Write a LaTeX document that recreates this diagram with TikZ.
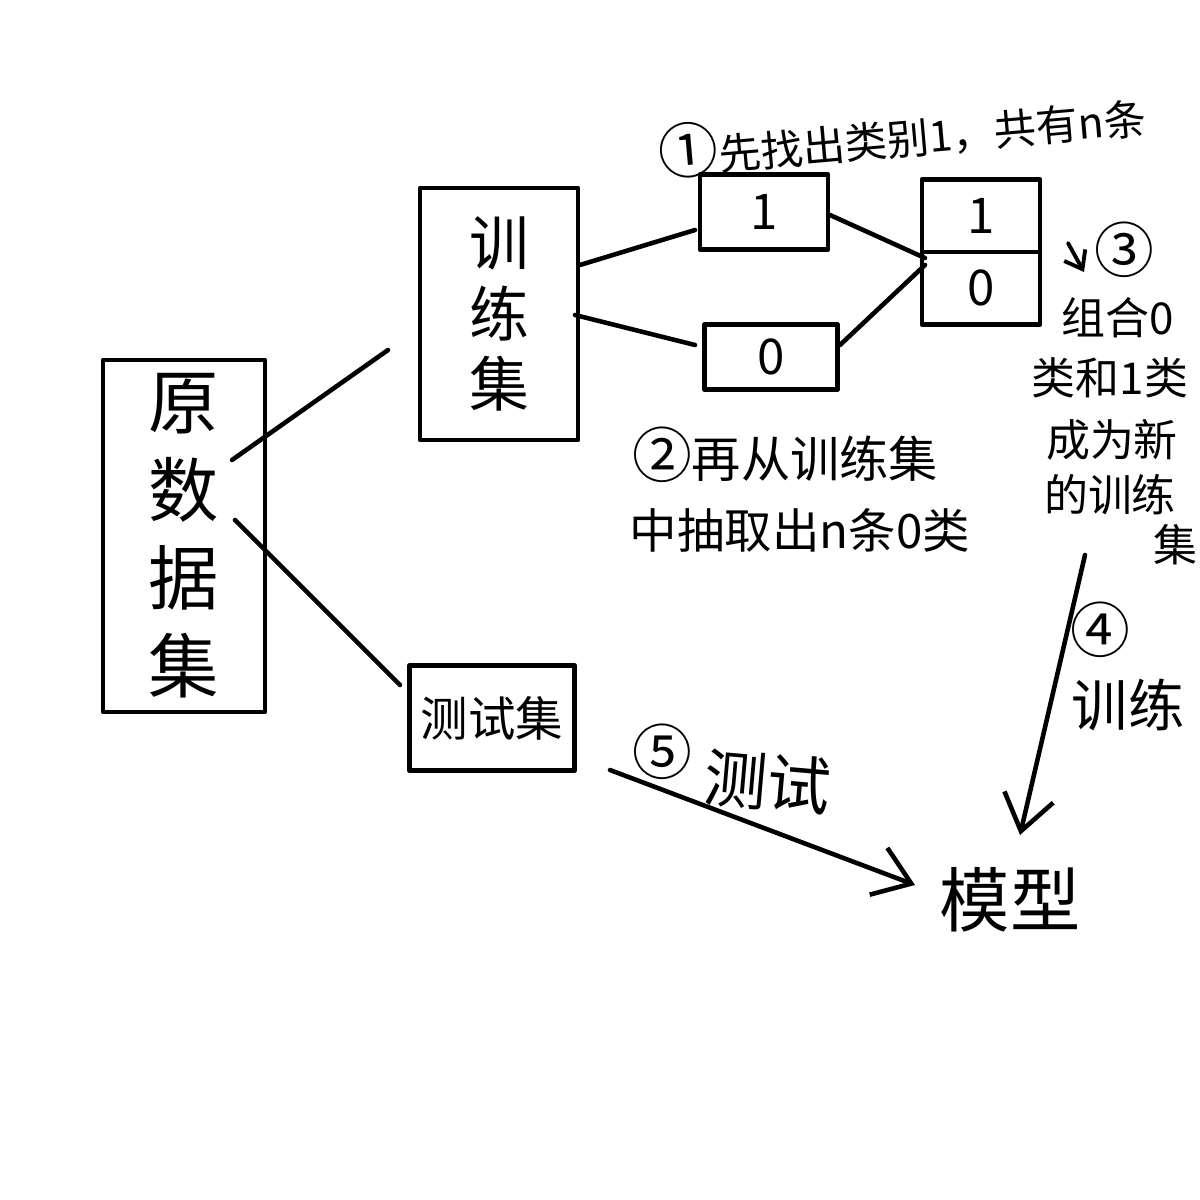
\documentclass[tikz,border=0pt]{standalone}
\usepackage{fontspec}
\setmainfont{Noto Sans CJK SC}
\usetikzlibrary{arrows.meta}
\newcommand{\circnum}[1]{{\fontsize{17}{17}\selectfont #1}}
\begin{document}
\begin{tikzpicture}[x=0.01cm,y=-0.01cm,line width=1.3pt,line cap=round,line join=round,
  box/.style={draw,line width=1.3pt,inner sep=0pt,align=center},
  lbl/.style={inner sep=0pt,align=center},
  conn/.style={draw,line width=1.3pt},
  arr/.style={draw,line width=1.3pt,-{Straight Barb[length=3.5mm,width=5mm,line width=1.3pt]}}]
\useasboundingbox[fill=white] (0,0) rectangle (1200,1200);

% boxes
\node[box,minimum width=1.62cm,minimum height=3.52cm,font=\fontsize{20}{25}\selectfont] (yuan) at (184,536)
  {原\\数\\据\\集};
\node[box,minimum width=1.58cm,minimum height=2.52cm,font=\fontsize{17}{20}\selectfont] (train) at (499,314)
  {训\\练\\集};
\node[box,minimum width=1.65cm,minimum height=1.05cm,font=\fontsize{13.5}{15}\selectfont] (test) at (492,718)
  {测试集};
\node[box,minimum width=1.28cm,minimum height=0.75cm,font=\fontsize{14}{16}\selectfont] (one) at (764,212)
  {1};
\node[box,minimum width=1.33cm,minimum height=0.65cm,font=\fontsize{14}{16}\selectfont] (zero) at (771,357)
  {0};
\node[box,minimum width=1.18cm,minimum height=1.45cm,font=\fontsize{14}{20.5}\selectfont] (combo) at (981,252)
  {1\\0};
\draw[line width=1.3pt,line cap=butt] (combo.west) -- (combo.east);

% connector end points
\coordinate (y1) at (232,460); \coordinate (t1) at (388,350);
\coordinate (y2) at (235,520); \coordinate (s1) at (400,685);
\coordinate (t2) at (580,265); \coordinate (o1) at (695,230);
\coordinate (t3) at (575,315); \coordinate (z1) at (695,345);
\coordinate (o2) at (830,215); \coordinate (c1) at (925,258);
\coordinate (z2) at (840,345); \coordinate (c2) at (925,265);

\draw[conn] (y1) -- (t1);
\draw[conn] (y2) -- (s1);
\draw[conn] (t2) -- (o1);
\draw[conn] (t3) -- (z1);
\draw[conn] (o2) -- (c1);
\draw[conn] (z2) -- (c2);

% model
\node[lbl,font=\fontsize{20}{22}\selectfont] (model) at (1010,900) {模型};

\coordinate (a4s) at (1085,555); \coordinate (a4e) at (1020,835);
\coordinate (a5s) at (610,770); \coordinate (a5e) at (915,885);
\draw[arr] (a4s) -- (a4e);
\draw[arr] (a5s) -- (a5e);

% labels
\node[lbl,rotate=5,font=\fontsize{12}{14}\selectfont] (l1) at (902,132) {\circnum{①}先找出类别1，共有n条};
\node[lbl,font=\fontsize{14}{16}\selectfont] (l2a) at (785,455) {\circnum{②}再从训练集};
\node[lbl,font=\fontsize{13.5}{16}\selectfont] (l2b) at (800,530) {中抽取出n条0类};

\coordinate (sa1) at (1068,243); \coordinate (sa2) at (1084,272);
\draw[line width=1.1pt,-{Straight Barb[length=1.6mm,width=2.4mm,line width=1.1pt]}] (sa1) -- (sa2);
\node[lbl,font=\fontsize{13}{15}\selectfont] (l3) at (1124,250) {\circnum{③}};
\node[lbl,font=\fontsize{12.5}{15}\selectfont] (l3a) at (1118,318) {组合0};
\node[lbl,font=\fontsize{12.5}{15}\selectfont] (l3b) at (1110,378) {类和1类};
\node[lbl,font=\fontsize{12.5}{15}\selectfont] (l3c) at (1112,440) {成为新};
\node[lbl,font=\fontsize{12.5}{15}\selectfont] (l3d) at (1110,495) {的训练};
\node[lbl,font=\fontsize{12.5}{15}\selectfont] (l3e) at (1175,545) {集};

\node[lbl,font=\fontsize{14}{16}\selectfont] (l4) at (1100,630) {\circnum{④}};
\node[lbl,font=\fontsize{16}{18}\selectfont] (l4a) at (1128,705) {训练};

\node[lbl,font=\fontsize{14}{16}\selectfont] (l5) at (662,752) {\circnum{⑤}};
\node[lbl,rotate=-5,font=\fontsize{18}{20}\selectfont] (l5a) at (768,782) {测试};
\end{tikzpicture}
\end{document}
